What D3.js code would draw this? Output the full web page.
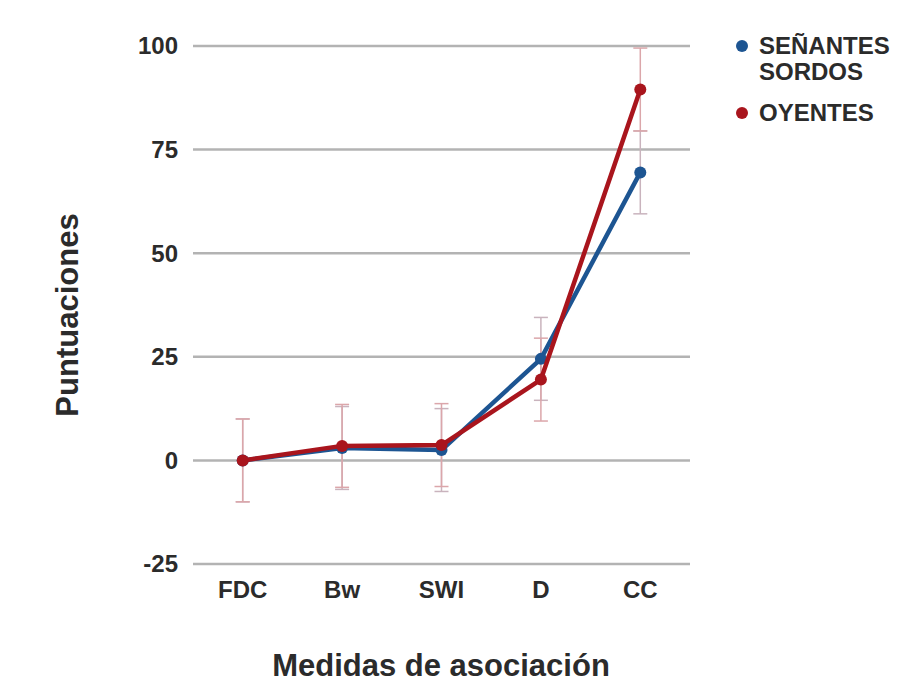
<!DOCTYPE html>
<html>
<head>
    <meta charset="utf-8">
    <script src="https://d3js.org/d3.v7.min.js"></script>
    <style>
        body { margin: 0; background: #fff; }
        text { font-family: "Liberation Sans", Arial, sans-serif; fill: #2b2b2b; }
        .tick-label { font-size: 24px; font-weight: bold; }
        .axis-title { font-size: 31px; font-weight: bold; }
        .legend-label { font-size: 24px; font-weight: bold; }
    </style>
</head>
<body>
<div id="chart"></div>
<script>
    // categorías y valores
    const categories = ["FDC", "Bw", "SWI", "D", "CC"];
    const sordos = [0, 3, 2.5, 24.5, 69.5];
    const oyentes = [0, 3.5, 3.7, 19.5, 89.5];
    const sordosErr = [10, 10, 10, 10, 10];
    const oyentesErr = [10, 10, 10, 10, 10];
    const yTicks = [-25, 0, 25, 50, 75, 100];

    const series = [
        { name: ["SEÑANTES", "SORDOS"], values: sordos, err: sordosErr, color: "#1d5592", errColor: "#c9b3bd" },
        { name: ["OYENTES"], values: oyentes, err: oyentesErr, color: "#a9151d", errColor: "#dba6aa" }
    ];

    const width = 906, height = 683;
    const margin = { left: 193, right: 216, top: 46, bottom: 118 };

    const svg = d3.select("#chart").append("svg")
        .attr("width", width)
        .attr("height", height);

    const x = d3.scalePoint()
        .domain(categories)
        .range([margin.left, width - margin.right])
        .padding(0.5);

    const y = d3.scaleLinear()
        .domain([-25, 100])
        .range([height - margin.bottom - 1, margin.top]);

    // líneas de cuadrícula
    svg.append("g")
        .selectAll("line")
        .data(yTicks)
        .enter().append("line")
        .attr("x1", margin.left)
        .attr("x2", width - margin.right)
        .attr("y1", d => y(d))
        .attr("y2", d => y(d))
        .style("stroke", "#b3b3b3")
        .style("stroke-width", 2.5);

    // etiquetas del eje y
    svg.append("g")
        .selectAll("text")
        .data(yTicks)
        .enter().append("text")
        .attr("class", "tick-label")
        .attr("x", margin.left - 15)
        .attr("y", d => y(d))
        .attr("dy", "0.35em")
        .attr("text-anchor", "end")
        .text(d => d);

    // etiquetas del eje x
    svg.append("g")
        .selectAll("text")
        .data(categories)
        .enter().append("text")
        .attr("class", "tick-label")
        .attr("x", d => x(d))
        .attr("y", y(-25) + 34)
        .attr("text-anchor", "middle")
        .text(d => d);

    // títulos de ejes
    svg.append("text")
        .attr("class", "axis-title")
        .attr("transform", `translate(78,315) rotate(-90)`)
        .attr("text-anchor", "middle")
        .text("Puntuaciones");

    svg.append("text")
        .attr("class", "axis-title")
        .attr("x", 441)
        .attr("y", 676)
        .attr("text-anchor", "middle")
        .text("Medidas de asociación");

    // barras de error
    series.forEach(s => {
        const g = svg.append("g");
        s.values.forEach((v, i) => {
            const cx = x(categories[i]);
            const top = y(v + s.err[i]);
            const bot = y(v - s.err[i]);
            g.append("line")
                .attr("x1", cx).attr("x2", cx)
                .attr("y1", top).attr("y2", bot)
                .style("stroke", s.errColor).style("stroke-width", 1.5);
            [top, bot].forEach(yy => {
                g.append("line")
                    .attr("x1", cx - 7).attr("x2", cx + 7)
                    .attr("y1", yy).attr("y2", yy)
                    .style("stroke", s.errColor).style("stroke-width", 1.5);
            });
        });
    });

    // líneas y puntos
    const line = d3.line()
        .x((d, i) => x(categories[i]))
        .y(d => y(d));

    series.forEach(s => {
        svg.append("path")
            .datum(s.values)
            .attr("d", line)
            .style("fill", "none")
            .style("stroke", s.color)
            .style("stroke-width", 4.5)
            .style("stroke-linejoin", "round");

        svg.append("g")
            .selectAll("circle")
            .data(s.values)
            .enter().append("circle")
            .attr("cx", (d, i) => x(categories[i]))
            .attr("cy", d => y(d))
            .attr("r", 6)
            .style("fill", s.color);
    });

    // leyenda
    const legend = svg.append("g").attr("transform", "translate(742,46)");
    const rowY = [0, 67];
    series.forEach((s, k) => {
        const ly = rowY[k];
        legend.append("circle")
            .attr("cx", 0).attr("cy", ly)
            .attr("r", 6)
            .style("fill", s.color);
        s.name.forEach((n, j) => {
            legend.append("text")
                .attr("class", "legend-label")
                .attr("x", 17)
                .attr("y", ly + j * 26)
                .attr("dy", "0.35em")
                .text(n);
        });
    });
</script>
</body>
</html>
